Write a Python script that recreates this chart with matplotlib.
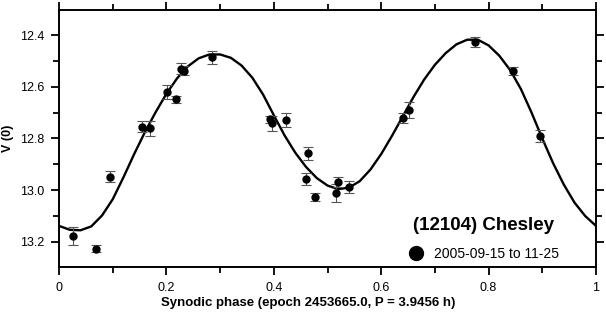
import numpy as np
import matplotlib
matplotlib.use('Agg')
import matplotlib.pyplot as plt
from matplotlib.ticker import MultipleLocator

plt.rcParams['font.family'] = ['Liberation Sans', 'DejaVu Sans']

# Observed points: synodic phase, V(0) magnitude, error
phase = [0.026, 0.068, 0.094, 0.154, 0.169, 0.202, 0.217, 0.227, 0.233,
         0.284, 0.393, 0.396, 0.422, 0.460, 0.464, 0.477, 0.515, 0.520,
         0.540, 0.641, 0.651, 0.775, 0.845, 0.895]
mag = [13.177, 13.226, 12.948, 12.754, 12.761, 12.620, 12.649, 12.530, 12.538,
       12.486, 12.726, 12.741, 12.729, 12.957, 12.857, 13.025, 13.012, 12.968,
       12.987, 12.722, 12.689, 12.427, 12.539, 12.790]
err = [0.036, 0.014, 0.021, 0.021, 0.029, 0.026, 0.015, 0.022, 0.018,
       0.026, 0.013, 0.029, 0.028, 0.024, 0.026, 0.016, 0.035, 0.019,
       0.024, 0.019, 0.030, 0.021, 0.014, 0.024]

# Fourier fit curve, every 0.02 in phase
fit_phase = [0.00, 0.02, 0.04, 0.06, 0.08, 0.10, 0.12, 0.14, 0.16, 0.18,
             0.20, 0.22, 0.24, 0.26, 0.28, 0.30, 0.32, 0.34, 0.36, 0.38,
             0.40, 0.42, 0.44, 0.46, 0.48, 0.50, 0.52, 0.54, 0.56, 0.58,
             0.60, 0.62, 0.64, 0.66, 0.68, 0.70, 0.72, 0.74, 0.76, 0.78,
             0.80, 0.82, 0.84, 0.86, 0.88, 0.90, 0.92, 0.94, 0.96, 0.98,
             1.00]
fit_mag = [13.138, 13.153, 13.155, 13.140, 13.098, 13.035, 12.950, 12.860, 12.775, 12.698,
           12.627, 12.567, 12.521, 12.490, 12.475, 12.475, 12.488, 12.518, 12.565, 12.630,
           12.710, 12.788, 12.855, 12.910, 12.953, 12.982, 12.996, 12.990, 12.965, 12.920,
           12.860, 12.790, 12.715, 12.640, 12.572, 12.515, 12.470, 12.436, 12.418, 12.418,
           12.440, 12.480, 12.535, 12.608, 12.700, 12.800, 12.895, 12.978, 13.048, 13.100,
           13.138]


def fmt_x(v, pos):
    if abs(v) < 1e-9:
        return '0'
    if abs(v - 1) < 1e-9:
        return '1'
    return f'{v:.1f}'


fig = plt.figure(figsize=(6.06, 3.12), dpi=100)
ax = fig.add_axes([0.0974, 0.1442, 0.8861, 0.8238])

ax.plot(fit_phase, fit_mag, color='black', linewidth=1.7, zorder=2)
ax.errorbar(phase, mag, yerr=err, fmt='none', ecolor='#555555',
            elinewidth=0.8, capsize=3.4, capthick=0.8, zorder=3)
pts, = ax.plot(phase, mag, 'o', color='black', markersize=5, zorder=4,
               label='2005-09-15 to 11-25')

ax.set_xlim(0, 1)
ax.set_ylim(13.297, 12.303)
ax.xaxis.set_major_locator(MultipleLocator(0.2))
ax.xaxis.set_minor_locator(MultipleLocator(0.1))
ax.yaxis.set_major_locator(MultipleLocator(0.2))
ax.yaxis.set_minor_locator(MultipleLocator(0.1))
ax.xaxis.set_major_formatter(plt.FuncFormatter(fmt_x))
ax.yaxis.set_major_formatter(plt.FuncFormatter(lambda v, p: f'{v:.1f}'))

ax.tick_params(which='both', direction='out', top=True, right=True,
               width=1.3, labelsize=9)
ax.tick_params(which='major', length=6, pad=4.5)
ax.tick_params(which='minor', length=4)
for s in ax.spines.values():
    s.set_linewidth(1.4)

ax.set_xlabel('Synodic phase (epoch 2453665.0, P = 3.9456 h)',
              fontsize=9.5, fontweight='bold')
ax.xaxis.set_label_coords(0.464, -0.115)
ax.set_ylabel('V (0)', fontsize=9, fontweight='bold')
ax.yaxis.set_label_coords(-0.083, 0.5)

leg = ax.legend(handles=[pts], loc='lower right', bbox_to_anchor=(0.955, -0.025),
                frameon=False, fontsize=10, markerscale=2.0,
                title='(12104) Chesley',
                title_fontproperties={'size': 13.5, 'weight': 'bold'},
                handletextpad=0.7, handlelength=1.2, labelspacing=0.95)

fig.savefig('out.png', dpi=100)
